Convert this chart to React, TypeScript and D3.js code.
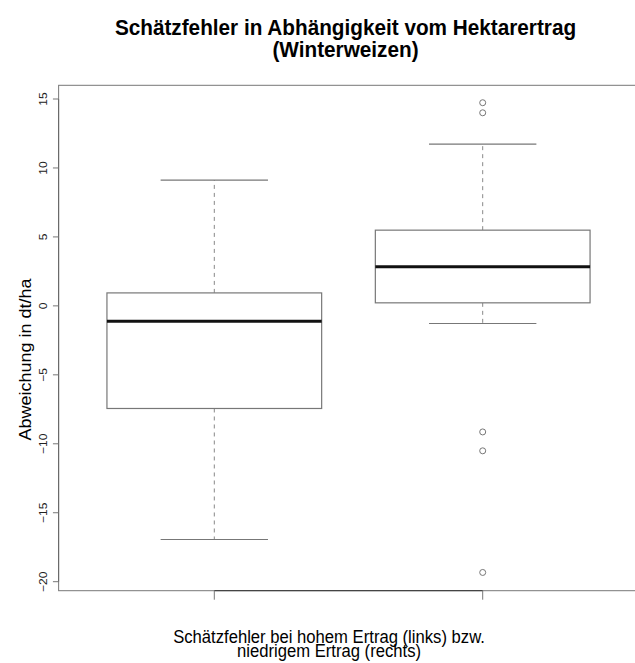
import React from "react";
import * as d3 from "d3";

const categories = ["hoher Ertrag", "niedriger Ertrag"];
const whiskerLow = [-16.94, -1.28];
const q1 = [-7.44, 0.22];
const median = [-1.11, 2.83];
const q3 = [0.94, 5.49];
const whiskerHigh = [9.12, 11.73];
const outliers: number[][] = [[], [14.73, 14.0, -9.14, -10.51, -19.33]];
const yTicks = [-20, -15, -10, -5, 0, 5, 10, 15];
const titleLines = ["Schätzfehler in Abhängigkeit vom Hektarertrag", "(Winterweizen)"];
const xLabelLines = ["Schätzfehler bei hohem Ertrag (links) bzw.", "niedrigem Ertrag (rechts)"];
const yLabel = "Abweichung in dt/ha";

const W = 635;
const H = 663;
const FONT = "'Liberation Sans', Arial, Helvetica, sans-serif";
const SQ = 0.91;

export default function App() {
  const x = d3.scaleLinear().domain([1, 2]).range([214.3, 482.7]);
  const y = d3.scaleLinear().domain([-20, 15]).range([581.7, 99]);
  const frameLeft = x(0.42);
  const frameRight = x(2.58);
  const frameTop = 85.3;
  const frameBottom = 590.7;
  const fmt = (v: number) => (v < 0 ? "\u2212" + Math.abs(v) : String(v));

  return (
    <svg width={W} height={H} style={{ position: "absolute", left: 0, top: 0, background: "#fff" }} fontFamily={FONT}>
      {/* title */}
      {titleLines.map((t, i) => (
        <text key={i} transform={`translate(345.5, ${35 + i * 22}) scale(${SQ},1)`} textAnchor="middle" fontSize={22.8} fontWeight="bold" fill="#000">{t}</text>
      ))}
      {/* frame */}
      <rect x={frameLeft} y={frameTop} width={frameRight - frameLeft} height={frameBottom - frameTop} fill="none" stroke="#777" strokeWidth={1} />
      {/* y axis */}
      <line x1={frameLeft} x2={frameLeft} y1={y(-20)} y2={y(15)} stroke="#666" strokeWidth={1} />
      {yTicks.map((t) => (
        <g key={t}>
          <line x1={frameLeft - 5.7} x2={frameLeft} y1={y(t)} y2={y(t)} stroke="#777" strokeWidth={1} />
          <text transform={`translate(46.5, ${y(t)}) rotate(-90) scale(1,${SQ})`} textAnchor="middle" fontSize={12} fill="#222">{fmt(t)}</text>
        </g>
      ))}
      {/* x axis */}
      <line x1={x(1)} x2={x(2)} y1={frameBottom} y2={frameBottom} stroke="#333" strokeWidth={1} />
      {categories.map((c, i) => (
        <line key={c} x1={x(i + 1)} x2={x(i + 1)} y1={frameBottom} y2={frameBottom + 9} stroke="#777" strokeWidth={1} />
      ))}
      {/* boxes */}
      {categories.map((c, i) => {
        const cx = x(i + 1);
        const hw = x(1.4) - x(1);
        const cw = x(1.2) - x(1);
        return (
          <g key={c}>
            <line x1={cx} x2={cx} y1={y(q3[i])} y2={y(whiskerHigh[i])} stroke="#888" strokeWidth={1} strokeDasharray="4,4" />
            <line x1={cx} x2={cx} y1={y(q1[i])} y2={y(whiskerLow[i])} stroke="#888" strokeWidth={1} strokeDasharray="4,4" />
            <line x1={cx - cw} x2={cx + cw} y1={y(whiskerHigh[i])} y2={y(whiskerHigh[i])} stroke="#777" strokeWidth={1.2} />
            <line x1={cx - cw} x2={cx + cw} y1={y(whiskerLow[i])} y2={y(whiskerLow[i])} stroke="#777" strokeWidth={1.2} />
            <rect x={cx - hw} y={y(q3[i])} width={2 * hw} height={y(q1[i]) - y(q3[i])} fill="#fff" stroke="#777" strokeWidth={1.2} />
            <line x1={cx - hw} x2={cx + hw} y1={y(median[i])} y2={y(median[i])} stroke="#111" strokeWidth={3} />
            {outliers[i].map((o, j) => (
              <circle key={j} cx={cx} cy={y(o)} r={3} fill="none" stroke="#777" strokeWidth={1} />
            ))}
          </g>
        );
      })}
      {/* y label */}
      <text transform={`translate(30.5, 359.5) rotate(-90) scale(1,${SQ})`} textAnchor="middle" fontSize={18} fill="#000">{yLabel}</text>
      {/* x label */}
      {xLabelLines.map((t, i) => (
        <text key={i} transform={`translate(329, ${643.3 + i * 13.2}) scale(${SQ},1)`} textAnchor="middle" fontSize={18.3} fill="#000">{t}</text>
      ))}
    </svg>
  );
}
